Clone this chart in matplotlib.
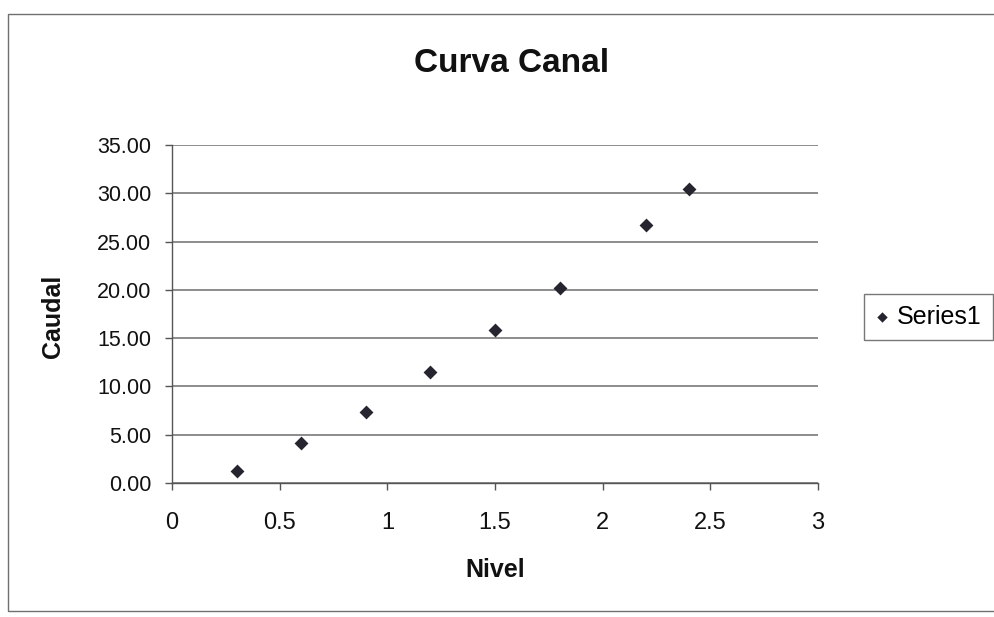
import matplotlib
matplotlib.use("Agg")
import matplotlib.pyplot as plt
from matplotlib.patches import Rectangle

# Data
nivel = [0.3, 0.6, 0.9, 1.2, 1.5, 1.8, 2.2, 2.4]
caudal = [1.25, 4.1, 7.35, 11.5, 15.8, 20.2, 26.7, 30.4]
x_ticks = [0, 0.5, 1, 1.5, 2, 2.5, 3]
x_tick_labels = ["0", "0.5", "1", "1.5", "2", "2.5", "3"]
y_ticks = [0, 5, 10, 15, 20, 25, 30, 35]
y_tick_labels = ["%.2f" % v for v in y_ticks]
title = "Curva Canal"
x_label = "Nivel"
y_label = "Caudal"
series_name = "Series1"

plt.rcParams['font.family'] = ['Liberation Sans', 'DejaVu Sans']

W, H = 994, 617
fig = plt.figure(figsize=(W / 100, H / 100), dpi=100)
fig.patch.set_facecolor("white")

# Outer chart frame
fig.patches.append(Rectangle((8 / W, 1 - 611 / H), (1000 - 8) / W, (611 - 14) / H,
                             transform=fig.transFigure, fill=False,
                             edgecolor="#707070", linewidth=1.0))

left, right, top, bottom = 172, 818, 145, 483
ax = fig.add_axes([left / W, 1 - bottom / H, (right - left) / W, (bottom - top) / H])

ax.scatter(nivel, caudal, marker="D", s=50, color="#26242e", zorder=3,
           label=series_name, linewidths=0)

ax.set_xlim(0, 3)
ax.set_ylim(0, 35)
ax.set_xticks(x_ticks)
ax.set_xticklabels(x_tick_labels)
ax.set_yticks(y_ticks)
ax.set_yticklabels(y_tick_labels)

ax.yaxis.grid(True, color="#6e6e6e", linewidth=1.1)
ax.set_axisbelow(True)
for s in ["top", "right"]:
    ax.spines[s].set_visible(False)
for s in ["left", "bottom"]:
    ax.spines[s].set_color("#555555")
    ax.spines[s].set_linewidth(1.0)

ax.tick_params(axis="y", direction="out", length=5, width=1, color="#555555",
               labelsize=15.5, pad=10, labelcolor="#111111")
ax.tick_params(axis="x", direction="out", length=5, width=1, color="#555555",
               labelsize=17, pad=16, labelcolor="#111111")

ax.set_xlabel(x_label, fontsize=18, fontweight="bold", color="#111111")
ax.xaxis.set_label_coords(0.5, (bottom - 570) / (bottom - top))
ax.xaxis.label.set_va("center")
ax.set_ylabel(y_label, fontsize=18, fontweight="bold", color="#111111")
ax.yaxis.set_label_coords((53 - left) / (right - left), 0.5 - (316 - (top + bottom) / 2) / (bottom - top))
ax.yaxis.label.set_va("center")

fig.text(512 / W, 1 - 63 / H, title, fontsize=24, fontweight="bold",
         ha="center", va="center", color="#111111")

leg = ax.legend(loc="center left", bbox_to_anchor=(864 / W, 1 - 317 / H),
                bbox_transform=fig.transFigure, frameon=True, fancybox=False,
                fontsize=18, handlelength=0.5, handletextpad=0.35,
                borderpad=0.45, markerscale=0.75, borderaxespad=0)
leg.get_frame().set_edgecolor("#555555")
leg.get_frame().set_linewidth(1.0)

fig.savefig("out.png", dpi=100)
